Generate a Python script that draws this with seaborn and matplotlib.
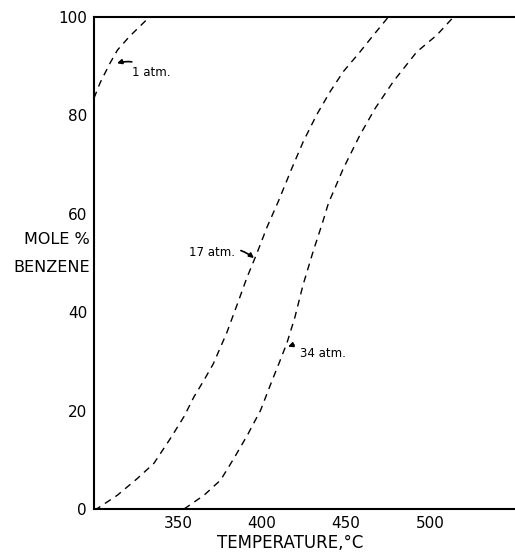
import matplotlib
matplotlib.use("Agg")
import matplotlib.pyplot as plt
import seaborn as sns
import pandas as pd

# Data
t_1atm = [300, 303.6, 309.5, 314, 321, 327, 333]
y_1atm = [83.5, 86.6, 90.6, 93.3, 96, 98, 100]

t_17atm = [300, 302, 313.9, 325.8, 335.7, 345.6, 353.6, 359.5, 365.5, 371, 379,
           385.7, 391, 397, 403, 409.7, 417.7, 424.6, 432.5, 440.5, 448.4,
           458.3, 466.3, 475.2]
y_17atm = [0, 0.1, 2.8, 6.2, 9.3, 14.4, 18.8, 22.8, 26.2, 29.5, 35.8,
           42, 47, 52, 57.3, 62.5, 69.2, 74.7, 80.1, 84.8, 88.9,
           92.9, 96.3, 100]

t_34atm = [353.6, 365.5, 375.4, 383.3, 391.3, 399.2, 406.1, 410, 414.9, 419.6,
           424.4, 430.4, 436.3, 439.5, 448.4, 458.3, 467.3, 478.2, 492.1, 504, 514]
y_34atm = [0, 2.8, 5.9, 10.3, 15, 20.1, 26.2, 29.5, 33.8, 39, 45.5, 52.3,
           58.5, 62.1, 69.2, 76, 81.4, 86.9, 92.9, 96.3, 100]

x_ticks = [350, 400, 450, 500]
y_ticks = [0, 20, 40, 60, 80, 100]

sns.set_theme(style="white")
plt.rcParams['font.family'] = ['DejaVu Sans']
plt.rcParams['text.color'] = 'black'
plt.rcParams['axes.labelcolor'] = 'black'
plt.rcParams['xtick.color'] = 'black'
plt.rcParams['ytick.color'] = 'black'

fig = plt.figure(figsize=(5.15, 5.59), dpi=100)
ax = fig.add_axes([94/515, 50/559, 1 - 94/515, (509-17)/559])

for t, y in [(t_1atm, y_1atm), (t_17atm, y_17atm), (t_34atm, y_34atm)]:
    df = pd.DataFrame({"T": t, "Y": y})
    sns.lineplot(data=df, x="T", y="Y", ax=ax, color="black", lw=1.0,
                 linestyle=(0, (5, 4)), sort=False, estimator=None)

ax.set_xlim(300, 550.6)
ax.set_ylim(0, 100)
ax.set_xticks(x_ticks)
ax.set_yticks(y_ticks)
ax.set_xticklabels([str(v) for v in x_ticks], fontsize=11)
ax.set_yticklabels([str(v) for v in y_ticks], fontsize=11)
ax.tick_params(axis='both', direction='in', length=7, width=1.5, color='black')
ax.tick_params(axis='x', pad=5)
ax.tick_params(axis='y', pad=5)
for s in ['left', 'bottom', 'top']:
    ax.spines[s].set_color('black')
    ax.spines[s].set_linewidth(1.5)
ax.spines['right'].set_visible(False)
ax.set_xlabel("TEMPERATURE,°C", fontsize=12)
ax.xaxis.set_label_coords((290 - 94) / 421, (509 - 543) / 492)
ax.xaxis.label.set_va('center')
ax.set_ylabel("")
ax.grid(False)

fig.text(90/515, 1 - 240/559, "MOLE %", ha='right', va='center', fontsize=11.5)
fig.text(90/515, 1 - 268/559, "BENZENE", ha='right', va='center', fontsize=11.5)

arrow = dict(arrowstyle='-|>', color='black', lw=1.2, mutation_scale=7,
             shrinkA=2, shrinkB=0, connectionstyle='arc3,rad=0.3')
ax.annotate("1 atm.", xy=(313.7, 90.6), xytext=(322.6, 88.8), fontsize=8.5,
            va='center', ha='left', arrowprops=arrow)
ax.annotate("17 atm.", xy=(395.2, 51.0), xytext=(383.9, 52.2), fontsize=8.5,
            va='center', ha='right',
            arrowprops=dict(arrow, connectionstyle='arc3,rad=-0.3'))
ax.annotate("34 atm.", xy=(415.5, 33.0), xytext=(422.6, 31.7), fontsize=8.5,
            va='center', ha='left', arrowprops=arrow)

fig.savefig("out.png", dpi=100)
